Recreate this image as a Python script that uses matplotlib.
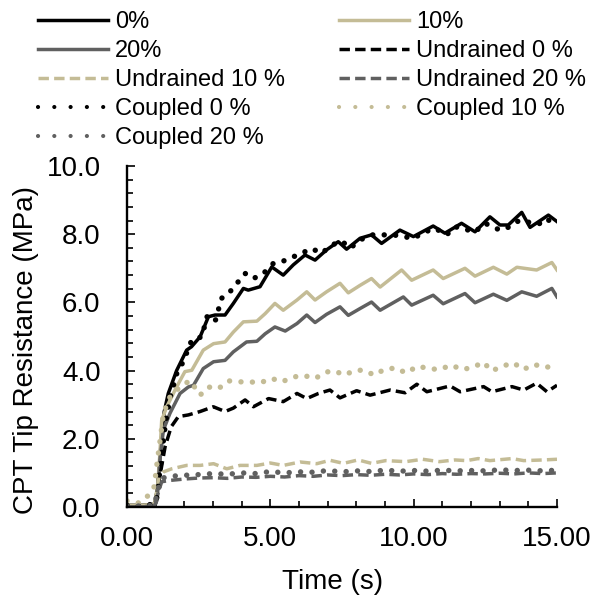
import numpy as np
import matplotlib
matplotlib.use("Agg")
import matplotlib.pyplot as plt
from matplotlib.ticker import MultipleLocator, FormatStrFormatter

plt.rcParams['font.family'] = ['Liberation Sans', 'DejaVu Sans']

# --- data (time s, tip resistance MPa) ---
t_0 = [0, 0.5, 0.95, 1.0, 1.1, 1.2, 1.3, 1.44, 1.73, 2.08, 2.25, 2.55, 2.84, 3.07, 3.42, 3.71, 4.06, 4.23,
       4.64, 5.05, 5.45, 5.80, 6.21, 6.56, 6.96, 7.37, 7.66, 8.13, 8.53, 8.88, 9.52, 9.99, 10.68, 11.09,
       11.67, 12.14, 12.66, 13.01, 13.3, 13.77, 14.06, 14.70, 15.0]
q_0 = [0.05, 0.05, 0.08, 0.1, 0.9, 2.0, 2.8, 3.33, 4.0, 4.6, 4.7, 4.99, 5.58, 5.63, 5.63, 5.97, 6.41, 6.36,
       6.46, 7.04, 6.8, 7.1, 7.39, 7.24, 7.54, 7.78, 7.56, 7.88, 7.98, 7.73, 8.12, 7.93, 8.24, 8.03,
       8.32, 8.07, 8.51, 8.27, 8.27, 8.64, 8.2, 8.56, 8.37]

t_10 = [0, 0.5, 0.95, 1.05, 1.15, 1.21, 1.38, 1.73, 2.02, 2.26, 2.66, 3.02, 3.42, 3.71, 4.06, 4.53, 4.82,
        5.16, 5.45, 5.93, 6.27, 6.56, 6.96, 7.43, 7.72, 8.13, 8.53, 8.83, 9.58, 9.93, 10.68, 11.03, 11.79,
        12.14, 12.78, 13.25, 13.6, 14.29, 14.82, 15.0]
q_10 = [0.05, 0.05, 0.08, 0.4, 1.6, 2.54, 2.93, 3.52, 3.97, 4.01, 4.6, 4.79, 4.84, 5.13, 5.43, 5.45, 5.67,
        5.97, 5.77, 6.07, 6.31, 6.07, 6.31, 6.56, 6.28, 6.5, 6.7, 6.45, 6.95, 6.65, 6.95, 6.7, 7.0,
        6.77, 7.03, 6.83, 7.03, 6.95, 7.17, 6.95]

t_20 = [0, 0.5, 0.95, 1.05, 1.15, 1.27, 1.5, 1.85, 2.14, 2.32, 2.66, 3.02, 3.42, 3.71, 4.17, 4.53, 4.82,
        5.16, 5.52, 5.93, 6.27, 6.56, 6.96, 7.43, 7.72, 8.13, 8.53, 8.83, 9.64, 9.93, 10.68, 11.03, 11.79,
        12.14, 12.78, 13.25, 13.77, 14.29, 14.82, 15.0]
q_20 = [0.0, 0.0, 0.03, 0.2, 1.4, 2.26, 2.75, 3.33, 3.52, 3.57, 4.06, 4.26, 4.3, 4.55, 4.84, 4.86, 5.08,
        5.28, 5.16, 5.38, 5.63, 5.41, 5.65, 5.87, 5.62, 5.82, 6.01, 5.77, 6.16, 5.92, 6.21, 5.96, 6.26,
        5.99, 6.24, 6.06, 6.31, 6.18, 6.41, 6.16]

t_u0 = [0, 0.5, 0.95, 1.12, 1.33, 1.54, 1.79, 2.14, 2.55, 3.01, 3.42, 3.71, 4.12, 4.41, 4.94, 5.45, 5.93,
        6.27, 6.68, 7.08, 7.43, 8.01, 8.48, 9.18, 9.7, 10.11, 10.46, 11.27, 11.62, 12.44, 12.73, 13.43,
        13.84, 14.29, 14.65, 15.0]
q_u0 = [0.0, 0.0, 0.03, 0.78, 1.77, 2.35, 2.65, 2.7, 2.8, 2.94, 2.8, 2.9, 3.14, 2.94, 3.18, 3.09, 3.33,
        3.18, 3.33, 3.43, 3.2, 3.41, 3.28, 3.43, 3.35, 3.6, 3.38, 3.55, 3.38, 3.53, 3.38, 3.53,
        3.43, 3.63, 3.38, 3.57]

t_u10 = [0, 0.5, 0.95, 1.12, 1.27, 1.56, 2.08, 2.55, 3.02, 3.48, 3.94, 4.53, 5.0, 5.45, 6.04, 6.62, 7.08,
         7.55, 8.06, 8.53, 9.02, 9.73, 10.31, 10.9, 11.44, 11.85, 12.25, 12.66, 13.43, 13.84, 14.53, 15.0]
q_u10 = [0.0, 0.0, 0.03, 0.88, 1.03, 1.12, 1.22, 1.22, 1.27, 1.12, 1.22, 1.22, 1.29, 1.22, 1.32, 1.27, 1.37,
         1.28, 1.38, 1.28, 1.36, 1.33, 1.4, 1.33, 1.38, 1.36, 1.42, 1.36, 1.42, 1.36, 1.38, 1.4]

t_u20 = [0, 0.5, 0.95, 1.1, 1.21, 1.5, 2.0, 2.5, 3.0, 3.5, 4.0, 4.5, 5.0, 5.5, 6.0, 6.5, 7.0, 7.5, 8.0,
         8.5, 9.0, 9.5, 10.0, 10.5, 11.0, 11.5, 12.0, 12.5, 13.0, 13.5, 14.0, 14.5, 15.0]
q_u20 = [0.0, 0.0, 0.02, 0.45, 0.74, 0.78, 0.82, 0.85, 0.86, 0.84, 0.88, 0.87, 0.9, 0.88, 0.92, 0.9, 0.94,
         0.92, 0.95, 0.93, 0.96, 0.94, 0.97, 0.95, 0.98, 0.96, 0.98, 0.97, 0.99, 0.97, 1.0, 0.98, 1.0]

t_c0 = [0, 0.5, 0.95, 1.05, 1.12, 1.22, 1.35, 1.5, 1.73, 1.96, 2.26, 2.61, 2.79, 3.07, 3.30, 3.59, 4.12,
        4.41, 4.76, 5.1, 5.39, 6.09, 6.44, 6.79, 7.14, 7.49, 7.78, 8.18, 8.53, 9.29, 9.99, 10.4, 10.75,
        11.15, 11.44, 12.14, 12.49, 13.01, 13.36, 13.69, 14.35, 14.65, 14.94]
q_c0 = [0.05, 0.05, 0.08, 0.3, 0.87, 1.6, 2.5, 3.2, 3.9, 4.26, 4.9, 4.99, 5.58, 5.43, 6.12, 6.31, 6.85,
        6.7, 6.85, 7.14, 7.19, 7.44, 7.58, 7.44, 7.68, 7.8, 7.59, 7.85, 7.98, 7.98, 7.88, 8.07, 8.17,
        7.98, 8.22, 8.07, 8.32, 8.12, 8.22, 8.41, 8.29, 8.46, 8.22]

t_c10 = [0, 0.4, 0.75, 0.95, 1.05, 1.17, 1.27, 1.5, 1.85, 2.2, 2.55, 2.84, 3.19, 3.54, 3.89, 4.3, 4.64,
         5.05, 5.4, 5.8, 6.15, 6.56, 6.96, 7.25, 7.57, 7.98, 8.27, 8.62, 8.97, 9.38, 9.73, 10.14, 10.52,
         10.9, 11.3, 11.71, 12.11, 12.43, 12.72, 13.1, 13.48, 13.82, 14.2, 14.61, 15.0]
q_c10 = [0.18, 0.12, 0.34, 0.6, 1.3, 2.05, 2.74, 3.23, 3.52, 3.71, 3.28, 3.52, 3.47, 3.7, 3.67, 3.67, 3.64,
         3.77, 3.67, 3.81, 3.86, 3.77, 3.96, 3.99, 3.87, 4.01, 4.01, 3.87, 4.03, 4.08, 3.93, 4.13, 4.06,
         4.03, 4.16, 4.03, 4.11, 4.25, 3.99, 4.13, 4.23, 4.03, 4.18, 4.09, 4.18]

t_c20 = [0, 0.5, 0.95, 1.1, 1.25, 1.5, 2.0, 2.5, 3.0, 3.5, 4.0, 4.5, 5.0, 5.5, 6.0, 6.5, 7.0, 7.5, 8.0,
         8.5, 9.0, 9.5, 10.0, 10.5, 11.0, 11.5, 12.0, 12.5, 13.0, 13.5, 14.0, 14.5, 15.0]
q_c20 = [0.03, 0.03, 0.05, 0.55, 0.85, 0.9, 0.93, 0.95, 0.98, 0.96, 1.0, 0.98, 1.04, 1.0, 1.03, 1.02, 1.07,
         1.03, 1.06, 1.04, 1.08, 1.05, 1.07, 1.05, 1.08, 1.06, 1.07, 1.06, 1.09, 1.07, 1.08, 1.06, 1.08]

black = '#000000'
tan = '#C4BC96'
grey = '#606060'

solid_lw = 2.5
dot_lw = 3.9
dash = (0, (3, 1.5))
dot = (0, (0.01, 2.1))

fig = plt.figure(figsize=(5.95, 5.98), dpi=100)
ax = fig.add_axes([127/595, 1-507/598, 430/595, 341/598])

h = {}
h['0%'], = ax.plot(t_0, q_0, color=black, lw=solid_lw, solid_joinstyle='round')
h['10%'], = ax.plot(t_10, q_10, color=tan, lw=solid_lw, solid_joinstyle='round')
h['20%'], = ax.plot(t_20, q_20, color=grey, lw=solid_lw, solid_joinstyle='round')
h['u0'], = ax.plot(t_u0, q_u0, color=black, lw=solid_lw, ls=dash)
h['u10'], = ax.plot(t_u10, q_u10, color=tan, lw=solid_lw, ls=dash)
h['u20'], = ax.plot(t_u20, q_u20, color=grey, lw=solid_lw, ls=dash)
h['c0'], = ax.plot(t_c0, q_c0, color=black, lw=dot_lw, ls=dot, dash_capstyle='round')
h['c10'], = ax.plot(t_c10, q_c10, color=tan, lw=dot_lw, ls=dot, dash_capstyle='round')
h['c20'], = ax.plot(t_c20, q_c20, color=grey, lw=dot_lw, ls=dot, dash_capstyle='round')

ax.set_xlim(0, 15)
ax.set_ylim(0, 10)
ax.xaxis.set_major_locator(MultipleLocator(5))
ax.xaxis.set_minor_locator(MultipleLocator(1))
ax.yaxis.set_major_locator(MultipleLocator(2))
ax.yaxis.set_minor_locator(MultipleLocator(0.4))
ax.xaxis.set_major_formatter(FormatStrFormatter('%.2f'))
ax.yaxis.set_major_formatter(FormatStrFormatter('%.1f'))

for s in ['top', 'right']:
    ax.spines[s].set_visible(False)
for s in ['left', 'bottom']:
    ax.spines[s].set_linewidth(1.7)

ax.tick_params(which='major', direction='in', length=6, width=1.2, labelsize=20)
ax.tick_params(which='minor', direction='in', length=4.5, width=1.2)
ax.tick_params(axis='x', which='major', pad=14)
ax.tick_params(axis='y', which='major', pad=19)

ax.set_xlabel('Time (s)', fontsize=20)
ax.set_ylabel('CPT Tip Resistance (MPa)', fontsize=20)
ax.xaxis.set_label_coords(0.477, -0.182)
ax.yaxis.set_label_coords(-0.205, 0.46)

order = ['0%', '20%', 'u10', 'c0', 'c20', '10%', 'u0', 'u20', 'c10']
names = {'0%': '0%', '10%': '10%', '20%': '20%',
         'u0': 'Undrained 0 %', 'u10': 'Undrained 10 %', 'u20': 'Undrained 20 %',
         'c0': 'Coupled 0 %', 'c10': 'Coupled 10 %', 'c20': 'Coupled 20 %'}
leg = fig.legend([h[k] for k in order], [names[k] for k in order], ncol=2,
                 loc='upper left', bbox_to_anchor=(38/595, 1-11/598), frameon=False,
                 fontsize=17, handlelength=2.97, handletextpad=0.3, columnspacing=2.29,
                 labelspacing=0.3, borderpad=0, borderaxespad=0)
# smaller, wider spaced dots in the legend keys
for line in leg.get_lines():
    if line.get_linewidth() == dot_lw:
        line.set_linewidth(3.0)
        line.set_linestyle((0, (0.01, 3.9)))

fig.savefig('out.png', dpi=100)
